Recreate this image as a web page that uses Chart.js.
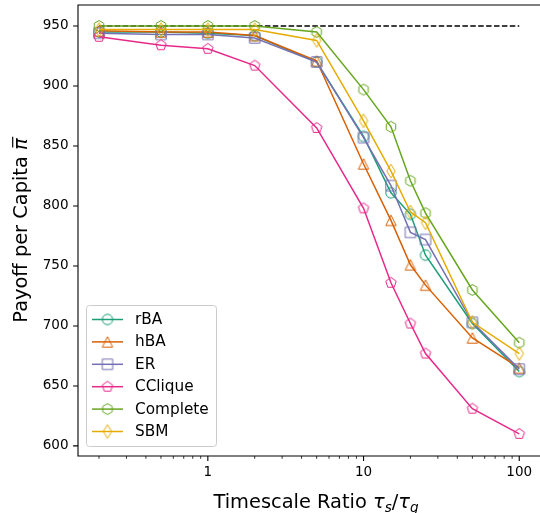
<!DOCTYPE html>
<html><head><meta charset="utf-8">
<script src="https://cdn.jsdelivr.net/npm/chart.js@4.4.0/dist/chart.umd.min.js"></script>
<style>
html,body{margin:0;padding:0;background:#fff;overflow:hidden;width:540px;height:513px;}
#wrap{width:540px;height:513px;position:relative;}
</style>
</head><body>
<div id="wrap"><canvas id="c"></canvas></div>
<script>
// ---- data ----
const ratios = [0.2, 0.5, 1, 2, 5, 10, 15, 20, 25, 50, 100];
const rBA      = [945, 945, 944, 942, 920, 858, 811, 793, 759, 702, 662];
const hBA      = [946, 945, 945, 942, 921, 835, 788, 751, 734, 690, 665];
const ER       = [944, 943, 943, 940, 920, 857, 817, 778, 772, 703, 664];
const CClique  = [941, 934, 931, 917, 865, 798, 736, 702, 677, 631, 610];
const Complete = [950, 950, 950, 950, 945, 897, 866, 821, 794, 730, 686];
const SBM      = [947, 947, 947, 947, 938, 871, 829, 795, 786, 703, 677];
const seriesNames = ['rBA', 'hBA', 'ER', 'CClique', 'Complete', 'SBM'];
const seriesValues = [rBA, hBA, ER, CClique, Complete, SBM];
const baselineValue = 950;
const baselineX = [0.2, 100];
const yTickValues = [600, 650, 700, 750, 800, 850, 900, 950];
const xMajorTicks = [1, 10, 100];
const xMinorTicks = [0.2,0.3,0.4,0.5,0.6,0.7,0.8,0.9,2,3,4,5,6,7,8,9,20,30,40,50,60,70,80,90];

// ---- styles ----
const colors = ['#1b9e77', '#d95f02', '#7570b3', '#e7298a', '#66a61e', '#e6ab02'];
const shapes = ['circle', 'triangle', 'square', 'pentagon', 'hexagon', 'thin_diamond'];
const FONT = '"DejaVu Sans", "Liberation Sans", sans-serif';

function makeMarker(shape, color) {
  const S = 20, c = S / 2;
  const cv = document.createElement('canvas');
  cv.width = S; cv.height = S;
  const g = cv.getContext('2d');
  g.strokeStyle = color; g.lineWidth = 1;
  g.beginPath();
  const r = 5.2;
  if (shape === 'circle') g.arc(c, c, r, 0, 2 * Math.PI);
  else if (shape === 'square') g.rect(c - r, c - r, 2 * r, 2 * r);
  else if (shape === 'triangle') { g.moveTo(c, c - r); g.lineTo(c + r, c + r); g.lineTo(c - r, c + r); g.closePath(); }
  else if (shape === 'pentagon' || shape === 'hexagon') {
    const n = shape === 'pentagon' ? 5 : 6;
    const rr = r * 1.05;
    for (let i = 0; i < n; i++) {
      const a = -Math.PI / 2 + 2 * Math.PI * i / n;
      const px = c + rr * Math.cos(a), py = c + rr * Math.sin(a);
      if (i) g.lineTo(px, py); else g.moveTo(px, py);
    }
    g.closePath();
  } else if (shape === 'thin_diamond') {
    const h = 6.8, w = 4.2;
    g.moveTo(c, c - h); g.lineTo(c + w, c); g.lineTo(c, c + h); g.lineTo(c - w, c); g.closePath();
  }
  g.stroke();
  return cv;
}
const markers = shapes.map((s, i) => makeMarker(s, colors[i]));

const datasets = seriesNames.map((name, i) => ({
  label: name,
  data: ratios.map((x, j) => ({ x: x, y: seriesValues[i][j] })),
  borderColor: colors[i],
  backgroundColor: colors[i],
  borderWidth: 1.5,
  pointStyle: markers[i],
  pointRadius: 5,
  pointHoverRadius: 5,
  tension: 0,
  fill: false,
  order: 6 - i,
  clip: false
}));
datasets.push({
  label: 'baseline',
  data: baselineX.map(x => ({ x: x, y: baselineValue })),
  borderColor: '#000',
  borderWidth: 1.5,
  borderDash: [5.5, 2.4],
  pointRadius: 0,
  fill: false,
  order: 20
});

const decor = {
  id: 'decor',
  afterDraw(chart) {
    const ctx = chart.ctx;
    const a = chart.chartArea;
    const xs = chart.scales.x, ys = chart.scales.y;
    ctx.save();
    // spines (right spine lies at the cropped edge)
    ctx.strokeStyle = '#000'; ctx.lineWidth = 1.1;
    ctx.beginPath();
    ctx.moveTo(a.right + 2, a.top); ctx.lineTo(a.left, a.top); ctx.lineTo(a.left, a.bottom); ctx.lineTo(a.right + 2, a.bottom);
    ctx.stroke();
    // ticks
    ctx.beginPath();
    yTickValues.forEach(v => { const y = ys.getPixelForValue(v); ctx.moveTo(a.left - 4.9, y); ctx.lineTo(a.left, y); });
    xMajorTicks.forEach(v => { const x = xs.getPixelForValue(v); ctx.moveTo(x, a.bottom); ctx.lineTo(x, a.bottom + 4.9); });
    ctx.stroke();
    ctx.lineWidth = 0.8;
    ctx.beginPath();
    xMinorTicks.forEach(v => { const x = xs.getPixelForValue(v); ctx.moveTo(x, a.bottom); ctx.lineTo(x, a.bottom + 2.8); });
    ctx.stroke();

    // x title with subscripts
    ctx.fillStyle = '#000';
    ctx.textBaseline = 'alphabetic';
    ctx.textAlign = 'left';
    const fs = 19.4, sub = fs * 0.7;
    const parts = [
      { t: 'Timescale Ratio ', f: `${fs}px ${FONT}`, dy: 0 },
      { t: 'τ', f: `italic ${fs}px ${FONT}`, dy: 0 },
      { t: 's', f: `italic ${sub}px ${FONT}`, dy: 4.2 },
      { t: '/', f: `${fs}px ${FONT}`, dy: 0 },
      { t: 'τ', f: `italic ${fs}px ${FONT}`, dy: 0 },
      { t: 'g', f: `italic ${sub}px ${FONT}`, dy: 4.2 }
    ];
    let total = 0;
    parts.forEach(p => { ctx.font = p.f; p.w = ctx.measureText(p.t).width; total += p.w; });
    let x0 = 316 - total / 2;
    const by = 508;
    parts.forEach(p => { ctx.font = p.f; ctx.fillText(p.t, x0, by + p.dy); x0 += p.w; });

    // y title (rotated)
    ctx.save();
    const cy = (a.top + a.bottom) / 2;
    ctx.translate(26.5, cy);
    ctx.rotate(-Math.PI / 2);
    ctx.font = `${fs}px ${FONT}`;
    const t1 = 'Payoff per Capita ';
    const w1 = ctx.measureText(t1).width;
    ctx.font = `italic ${fs}px ${FONT}`;
    const w2 = ctx.measureText('π').width;
    let sx = -(w1 + w2) / 2;
    ctx.font = `${fs}px ${FONT}`;
    ctx.fillText(t1, sx, 0);
    ctx.font = `italic ${fs}px ${FONT}`;
    ctx.fillText('π', sx + w1, 0);
    ctx.lineWidth = 1.2;
    ctx.beginPath();
    ctx.moveTo(sx + w1 + 2.5, -13.8);
    ctx.lineTo(sx + w1 + w2 + 1.5, -13.8);
    ctx.stroke();
    ctx.restore();

    // legend
    const bx = 86.5, byy = 305.5, bw = 130, bh = 141, rad = 3;
    ctx.beginPath();
    ctx.moveTo(bx + rad, byy);
    ctx.lineTo(bx + bw - rad, byy); ctx.quadraticCurveTo(bx + bw, byy, bx + bw, byy + rad);
    ctx.lineTo(bx + bw, byy + bh - rad); ctx.quadraticCurveTo(bx + bw, byy + bh, bx + bw - rad, byy + bh);
    ctx.lineTo(bx + rad, byy + bh); ctx.quadraticCurveTo(bx, byy + bh, bx, byy + bh - rad);
    ctx.lineTo(bx, byy + rad); ctx.quadraticCurveTo(bx, byy, bx + rad, byy);
    ctx.closePath();
    ctx.fillStyle = 'rgba(255,255,255,0.8)';
    ctx.fill();
    ctx.strokeStyle = '#cccccc'; ctx.lineWidth = 1;
    ctx.stroke();
    ctx.font = `15.3px ${FONT}`;
    ctx.textBaseline = 'middle';
    seriesNames.forEach((name, i) => {
      const ry = 319.5 + i * 22.4;
      ctx.strokeStyle = colors[i]; ctx.lineWidth = 1.5;
      ctx.beginPath(); ctx.moveTo(92, ry); ctx.lineTo(123, ry); ctx.stroke();
      const m = markers[i];
      ctx.drawImage(m, 107.5 - m.width / 2, ry - m.height / 2);
      ctx.fillStyle = '#000';
      ctx.fillText(name, 135, ry + 0.5);
    });
    ctx.restore();
  }
};

Chart.defaults.font.family = FONT;
new Chart(document.getElementById('c'), {
  type: 'line',
  data: { datasets: datasets },
  options: {
    responsive: true,
    maintainAspectRatio: false,
    animation: false,
    devicePixelRatio: 1,
    layout: { autoPadding: false, padding: { top: 5, right: 0, left: 0, bottom: 0 } },
    plugins: { legend: { display: false }, tooltip: { enabled: false } },
    scales: {
      x: {
        type: 'logarithmic',
        min: 0.1466, max: 135.9,
        bounds: 'data',
        afterBuildTicks: s => { s.ticks = xMajorTicks.concat(xMinorTicks).sort((p, q) => p - q).map(v => ({ value: v })); },
        afterFit: s => { s.height = 57; s.paddingLeft = 0; s.paddingRight = 0; s.paddingTop = 0; s.paddingBottom = 0; },
        grid: { display: true, drawOnChartArea: false, color: 'rgba(0,0,0,0)', tickColor: 'rgba(0,0,0,0)', tickLength: 5 },
        border: { display: false },
        ticks: {
          autoSkip: false, maxRotation: 0, minRotation: 0, padding: 3, color: '#000',
          font: { size: 13.5 },
          callback: v => xMajorTicks.includes(v) ? String(v) : ''
        }
      },
      y: {
        min: 591.6, max: 967.5,
        bounds: 'data',
        afterBuildTicks: s => { s.ticks = yTickValues.map(v => ({ value: v })); },
        afterFit: s => { s.width = 78; s.paddingLeft = 0; s.paddingRight = 0; s.paddingTop = 0; s.paddingBottom = 0; },
        grid: { display: true, drawOnChartArea: false, color: 'rgba(0,0,0,0)', tickColor: 'rgba(0,0,0,0)', tickLength: 5 },
        border: { display: false },
        ticks: { padding: 4.5, color: '#000', font: { size: 13.5 }, callback: v => String(v) }
      }
    }
  },
  plugins: [decor]
});
</script>
</body></html>
